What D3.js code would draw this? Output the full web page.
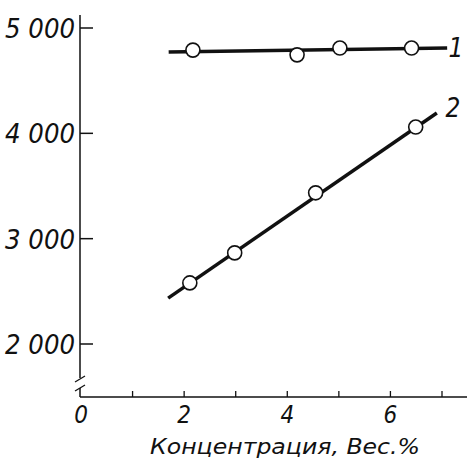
<!DOCTYPE html>
<html>
<head>
<meta charset="utf-8">
<script src="https://cdn.jsdelivr.net/npm/d3@7"></script>
<style>
  body { margin: 0; background: #fff; }
  text { font-family: "DejaVu Sans Condensed", "DejaVu Sans", sans-serif; font-style: italic; font-weight: 300; fill: #111; }
</style>
</head>
<body>
<svg></svg>
<script>
// данные
const yTicks = [2000, 3000, 4000, 5000];
const yTickLabels = ["2 000", "3 000", "4 000", "5 000"];
const xTicks = [0, 1, 2, 3, 4, 5, 6, 7];
const xTickLabels = ["0", "", "2", "", "4", "", "6", ""];

// кривая 1
const s1x = [2.17, 4.19, 5.02, 6.41];
const s1y = [4790, 4745, 4810, 4810];
const s1lineX = [1.7, 7.1];
const s1lineY = [4772, 4810];

// кривая 2
const s2x = [2.11, 2.98, 4.55, 6.49];
const s2y = [2580, 2865, 3435, 4060];
const s2lineX = [1.69, 6.9];
const s2lineY = [2436, 4193];

const width = 467, height = 466;
const svg = d3.select("svg").attr("width", width).attr("height", height);

const x = d3.scaleLinear().domain([0, 7]).range([81, 442]);
const y = d3.scaleLinear().domain([2000, 5000]).range([344, 28]);
const axisY = 397;

// ось Y
svg.append("line").attr("x1", 80).attr("x2", 80).attr("y1", 15).attr("y2", 378)
  .attr("stroke", "#111").attr("stroke-width", 1.5);
svg.append("line").attr("x1", 80).attr("x2", 80).attr("y1", 388).attr("y2", axisY)
  .attr("stroke", "#111").attr("stroke-width", 1.5);
// разрыв оси
[379, 388].forEach(v => {
  svg.append("line").attr("x1", 75).attr("x2", 85).attr("y1", v + 3).attr("y2", v - 3)
    .attr("stroke", "#111").attr("stroke-width", 1.3);
});

svg.selectAll(".ytick").data(yTicks).enter().append("line")
  .attr("x1", 80).attr("x2", 93)
  .attr("y1", d => y(d)).attr("y2", d => y(d))
  .attr("stroke", "#111").attr("stroke-width", 1.5);
svg.selectAll(".ylab").data(yTicks).enter().append("text")
  .attr("x", 75).attr("y", d => y(d) + 10)
  .attr("text-anchor", "end").attr("font-size", 27)
  .attr("textLength", 70).attr("lengthAdjust", "spacingAndGlyphs")
  .text((d, i) => yTickLabels[i]);

// ось X
svg.append("line").attr("x1", 80).attr("x2", width).attr("y1", axisY).attr("y2", axisY)
  .attr("stroke", "#111").attr("stroke-width", 1.5);
svg.selectAll(".xtick").data(xTicks.slice(1)).enter().append("line")
  .attr("x1", d => x(d)).attr("x2", d => x(d))
  .attr("y1", axisY).attr("y2", axisY - 6)
  .attr("stroke", "#111").attr("stroke-width", 1.3);
svg.selectAll(".xlab").data(xTicks).enter().append("text")
  .attr("x", d => x(d)).attr("y", 423)
  .attr("text-anchor", "middle").attr("font-size", 24)
  .text((d, i) => xTickLabels[i]);
svg.append("text").attr("x", 285).attr("y", 454)
  .attr("text-anchor", "middle").attr("font-size", 22)
  .attr("textLength", 270).attr("lengthAdjust", "spacingAndGlyphs")
  .text("Концентрация, Вес.%");

// линии и точки
const series = [
  {px: s1x, py: s1y, lx: s1lineX, ly: s1lineY, label: "1", lpos: [456, 57]},
  {px: s2x, py: s2y, lx: s2lineX, ly: s2lineY, label: "2", lpos: [453, 117]}
];
series.forEach(s => {
  svg.append("line")
    .attr("x1", x(s.lx[0])).attr("y1", y(s.ly[0]))
    .attr("x2", x(s.lx[1])).attr("y2", y(s.ly[1]))
    .attr("stroke", "#111").attr("stroke-width", 3.5);
  svg.selectAll(null).data(s.px).enter().append("circle")
    .attr("cx", d => x(d)).attr("cy", (d, i) => y(s.py[i]))
    .attr("r", 7).attr("fill", "#fff").attr("stroke", "#111").attr("stroke-width", 1.6);
  svg.append("text").attr("x", s.lpos[0]).attr("y", s.lpos[1])
    .attr("text-anchor", "middle").attr("font-size", 26).text(s.label);
});
</script>
</body>
</html>
